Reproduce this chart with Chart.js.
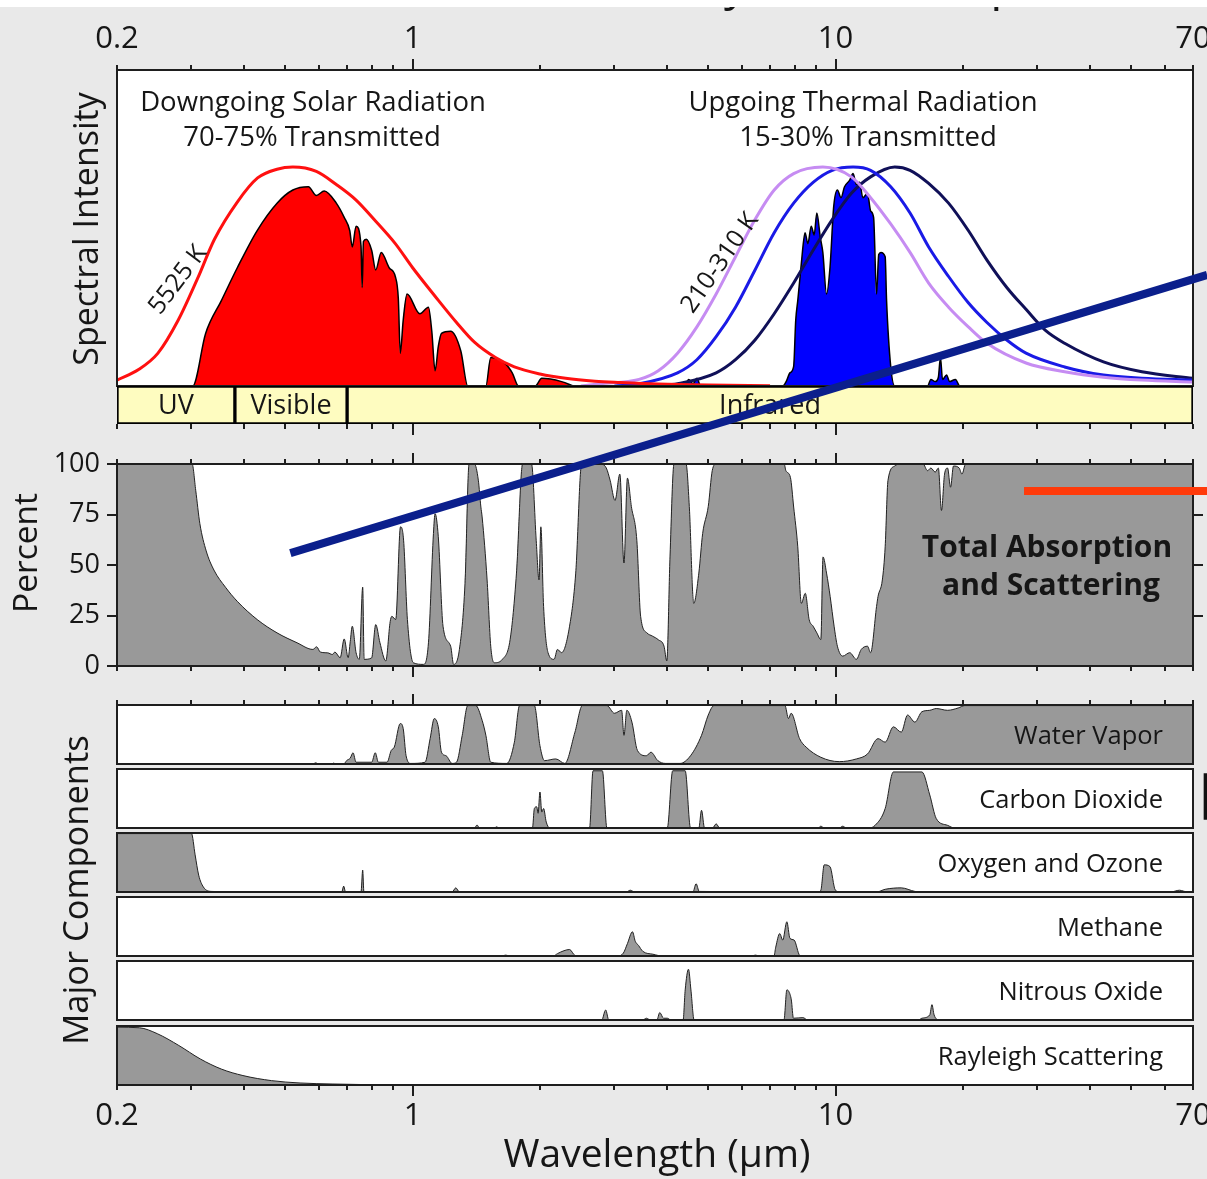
<!DOCTYPE html>
<html>
<head>
<meta charset="utf-8">
<title>Radiation Transmitted by the Atmosphere</title>
<script src="https://cdn.jsdelivr.net/npm/chart.js"></script>
<style>
  html, body { margin: 0; padding: 0; background: #e9e9e9; }
  #page { position: relative; width: 1207px; height: 1179px; overflow: hidden; background: #e9e9e9; }
  #page canvas { position: absolute; left: 0; top: 0; }
</style>
</head>
<body>
<div id="page">
  <canvas id="cTop" width="1207" height="1179"></canvas>
  <canvas id="cBand" width="1207" height="1179"></canvas>
  <canvas id="cTotal" width="1207" height="1179"></canvas>
  <canvas id="cWater" width="1207" height="1179"></canvas>
  <canvas id="cCo2" width="1207" height="1179"></canvas>
  <canvas id="cOxy" width="1207" height="1179"></canvas>
  <canvas id="cMeth" width="1207" height="1179"></canvas>
  <canvas id="cN2o" width="1207" height="1179"></canvas>
  <canvas id="cRay" width="1207" height="1179"></canvas>
  <canvas id="cOver" width="1207" height="1179"></canvas>
</div>

<script>
// ---- axis / category data ----
const wlMin = 0.2, wlMax = 70;
const wlTicks = [0.2, 0.3, 0.4, 0.5, 0.6, 0.7, 0.8, 0.9, 1, 2, 3, 4, 5, 6, 7, 8, 9, 10, 20, 30, 40, 50, 60, 70];
const wlMajor = [1, 10];
const wlLabelValues = [0.2, 1, 10, 70];
const wlLabels = ['0.2', '1', '10', '70'];
const pctTicks = [0, 25, 50, 75, 100];

const bandNames = ['UV', 'Visible', 'Infrared'];
const bandEdges = [0.2, 0.38, 0.7, 70];

// ---- spectral intensity (peak = 1), [wavelength um, value] ----
const solarBlackbody = [[0.2,0.027],[0.225,0.075],[0.25,0.15],[0.279,0.30],[0.31,0.49],[0.34,0.67],[0.385,0.84],[0.43,0.95],[0.478,0.99],[0.521,1.0],[0.592,0.98],[0.66,0.92],[0.734,0.85],[0.82,0.75],[0.91,0.65],[1.0,0.54],[1.13,0.41],[1.27,0.29],[1.4,0.20],[1.57,0.13],[1.74,0.087],[2.0,0.055],[2.3,0.035],[2.7,0.022],[3.1,0.016],[3.8,0.009],[5,0.004],[7,0.001]];
const solarTransmitted = [[0.29,0],[0.302,0],[0.324,0.24],[0.353,0.39],[0.385,0.54],[0.429,0.71],[0.478,0.835],[0.521,0.895],[0.567,0.91],[0.592,0.87],[0.618,0.89],[0.66,0.835],[0.689,0.77],[0.71,0.71],[0.72,0.635],[0.735,0.73],[0.755,0.64],[0.76,0.45],[0.765,0.66],[0.777,0.67],[0.80,0.62],[0.818,0.53],[0.843,0.61],[0.88,0.54],[0.91,0.50],[0.925,0.40],[0.935,0.15],[0.95,0.30],[0.97,0.42],[1.04,0.33],[1.09,0.36],[1.11,0.25],[1.13,0.07],[1.15,0.18],[1.17,0.24],[1.23,0.25],[1.30,0.16],[1.35,0],[1.49,0],[1.53,0.13],[1.66,0.10],[1.72,0.06],[1.78,0],[1.95,0],[2.02,0.035],[2.25,0.02],[2.40,0]];
const thermal310 = [[2.5,0],[2.78,0.01],[3.43,0.03],[3.81,0.07],[4.23,0.15],[4.7,0.27],[5.22,0.42],[5.8,0.59],[6.45,0.76],[7.16,0.895],[7.96,0.97],[9.33,1.0],[10.9,0.955],[12.1,0.86],[13.5,0.74],[15.0,0.61],[16.6,0.47],[18.5,0.36],[20.6,0.27],[22.8,0.195],[28.2,0.105],[34.8,0.065],[43,0.04],[53,0.027],[70,0.018]];
const thermal260 = [[3.0,0],[3.43,0.01],[4.23,0.06],[4.7,0.12],[5.22,0.225],[5.8,0.36],[6.45,0.53],[7.16,0.70],[7.96,0.835],[8.85,0.93],[9.82,0.985],[11.0,1.0],[12.1,0.985],[13.5,0.91],[15.0,0.79],[16.6,0.635],[18.5,0.50],[20.6,0.38],[22.8,0.29],[25.4,0.21],[28.2,0.15],[34.8,0.087],[43,0.05],[53,0.035],[70,0.027]];
const thermal210 = [[3.8,0],[4.23,0.01],[5.22,0.06],[5.8,0.12],[6.45,0.21],[7.16,0.33],[7.96,0.47],[8.85,0.62],[9.82,0.76],[10.9,0.88],[12.1,0.955],[13.8,1.0],[15.0,0.985],[16.6,0.925],[18.5,0.835],[20.6,0.71],[22.8,0.575],[25.4,0.45],[28.2,0.35],[31.3,0.255],[34.8,0.195],[43,0.11],[53,0.065],[70,0.035]];
const thermalTransmitted = [[4.4,0],[4.5,0.03],[4.6,0.01],[4.7,0.035],[4.8,0],[7.5,0],[7.64,0.02],[7.8,0.06],[7.96,0.09],[8.05,0.3],[8.14,0.39],[8.3,0.56],[8.4,0.66],[8.47,0.70],[8.6,0.65],[8.76,0.73],[8.9,0.69],[9.03,0.79],[9.2,0.68],[9.33,0.61],[9.52,0.42],[9.7,0.54],[9.9,0.82],[10.1,0.895],[10.3,0.86],[10.5,0.91],[10.8,0.94],[11.0,0.97],[11.2,0.92],[11.4,0.93],[11.6,0.86],[11.9,0.88],[12.1,0.80],[12.3,0.77],[12.5,0.42],[12.65,0.60],[12.8,0.61],[13.1,0.59],[13.2,0.39],[13.5,0.09],[13.8,0],[16.5,0],[16.8,0.03],[17.2,0.02],[17.5,0.04],[17.7,0.13],[17.9,0.03],[18.3,0.05],[18.6,0.02],[19.2,0.03],[19.6,0]];

// ---- total absorption and scattering (percent) ----
const totalAbsorption = [[0.2,100],[0.301,100],[0.307,87],[0.314,70.5],[0.325,57],[0.339,47.5],[0.361,39],[0.385,32],[0.429,23],[0.478,16.4],[0.533,11.5],[0.581,8.2],[0.593,9.5],[0.605,6.9],[0.63,6.5],[0.646,5.7],[0.655,6.9],[0.674,4.1],[0.689,13.4],[0.704,4.1],[0.712,12],[0.72,19.7],[0.735,6.6],[0.748,3.3],[0.762,39],[0.768,3.3],[0.80,4],[0.818,20.5],[0.837,11.5],[0.864,2.5],[0.885,22],[0.893,24.6],[0.912,23],[0.936,68.9],[0.952,62.3],[0.972,23],[1.004,1.6],[1.06,0.8],[1.09,11.5],[1.12,65.6],[1.13,75.4],[1.15,64],[1.18,19.7],[1.23,9.8],[1.25,0.8],[1.29,8.2],[1.33,41],[1.36,100],[1.40,100],[1.43,92],[1.45,78.7],[1.46,73.8],[1.50,42.6],[1.53,9.8],[1.56,1.6],[1.63,3.3],[1.70,13],[1.76,46],[1.82,100],[1.91,100],[1.96,62],[1.99,42.6],[2.01,68.9],[2.04,29.5],[2.09,6.6],[2.16,3.3],[2.2,8.2],[2.25,6.6],[2.35,19.7],[2.43,46],[2.51,100],[2.78,100],[2.87,98],[2.93,92],[3.01,82],[3.09,95],[3.16,51],[3.22,93],[3.29,79],[3.39,62],[3.46,24.6],[3.58,16.4],[3.69,14.8],[3.81,13],[3.93,9.8],[3.99,2.5],[4.06,54],[4.15,100],[4.43,100],[4.51,79],[4.62,31],[4.75,46],[4.85,65.6],[5.0,79],[5.11,96.7],[5.22,100],[7.56,100],[7.63,96.7],[7.82,93.4],[7.96,78.7],[8.14,59],[8.30,31],[8.48,36],[8.66,23],[8.85,19.7],[9.03,16.4],[9.23,13.1],[9.34,54],[9.52,46],[9.71,34.4],[9.92,19.7],[10.1,9.8],[10.4,4.9],[10.8,6.6],[11.2,3.3],[11.5,8.2],[11.9,9.8],[12.1,6.6],[12.5,29.5],[12.6,34.4],[12.9,42.6],[13.1,59],[13.3,91.8],[13.8,99],[14.1,100],[16.1,100],[16.5,96.7],[16.8,98],[17.2,96],[17.5,98],[17.8,77],[18.1,95],[18.4,98],[18.7,88.5],[19.0,99],[19.6,98],[19.9,95],[20.3,100],[70,100]];

// ---- major components (percent) ----
const waterVapor = [[0.2,0],[0.58,0],[0.59,2],[0.60,0],[0.645,0],[0.65,1.5],[0.66,0],[0.69,1],[0.698,5.7],[0.712,10],[0.723,19],[0.735,3],[0.80,3],[0.816,19],[0.83,3],[0.87,3],[0.89,23],[0.905,28.6],[0.935,68.6],[0.95,60],[0.965,14],[0.99,1],[1.07,3],[1.10,43],[1.125,77],[1.15,63],[1.17,20],[1.20,14],[1.24,1],[1.27,3],[1.31,48.6],[1.35,99],[1.41,99],[1.46,74],[1.49,48.6],[1.53,3],[1.67,1],[1.74,37],[1.79,99],[1.94,99],[2.0,31],[2.05,5.7],[2.18,8.6],[2.29,1],[2.42,54],[2.52,99],[2.88,99],[3.0,86],[3.12,91],[3.16,48.6],[3.21,91],[3.3,71],[3.4,23],[3.57,14],[3.66,20],[3.80,5.7],[3.96,1],[4.29,1],[4.54,14],[4.82,48.6],[5.0,83],[5.16,99],[7.59,99],[7.74,77],[7.85,86],[8.22,43],[8.52,28.6],[9.23,11.4],[10.2,4],[11.2,8.6],[11.9,17],[12.6,43],[13.1,37],[13.7,63],[14.3,54],[14.8,83],[15.4,71],[16.0,88.6],[16.7,91],[17.3,94],[18.4,91],[19.5,95],[20.2,99],[70,99]];
const carbonDioxide = [[0.2,0],[1.40,0],[1.42,5],[1.44,0],[1.56,0],[1.58,2],[1.60,0],[1.92,0],[1.94,33],[1.965,36],[1.98,25],[2.0,61],[2.02,27],[2.04,33],[2.07,10],[2.11,0],[2.62,0],[2.67,97],[2.81,97],[2.88,0],[4.0,0],[4.12,97],[4.41,97],[4.54,0],[4.75,0],[4.82,30],[4.9,0],[5.12,0],[5.22,7],[5.32,0],[9.1,0],[9.23,3],[9.4,0],[10.2,0],[10.4,3],[10.6,0],[12.0,0],[12.4,4.5],[13.1,33],[13.7,95],[16.0,95],[16.7,56],[17.3,16],[18.4,4.5],[19.1,0],[70,0]];
const oxygenOzone = [[0.2,99],[0.30,99],[0.306,63],[0.312,28.6],[0.32,8.6],[0.334,1],[0.40,0],[0.68,0],[0.687,10],[0.694,0],[0.755,0],[0.762,37],[0.767,0],[1.24,0],[1.265,7],[1.29,0],[3.2,0],[3.27,3],[3.35,0],[4.6,0],[4.68,14],[4.76,1],[9.1,0],[9.23,3],[9.4,46],[9.7,43],[9.99,3],[10.3,0],[12.5,0],[13.1,4.6],[14.3,7],[15.4,1],[16,0],[62,0],[65,3],[68,0],[70,0]];
const methane = [[0.2,0],[1.62,0],[1.66,1.5],[1.70,0],[2.15,0],[2.2,4],[2.28,9],[2.35,11],[2.42,1],[2.5,0],[3.05,0],[3.15,5],[3.22,21],[3.31,41],[3.36,25],[3.42,18],[3.5,8],[3.7,3],[3.9,0],[6.3,0],[6.47,1.5],[6.6,0],[7.15,0],[7.22,15],[7.38,38],[7.5,27],[7.67,58],[7.8,30],[7.98,27],[8.23,1],[8.4,0],[70,0]];
const nitrousOxide = [[0.2,0],[2.8,0],[2.86,17],[2.91,0],[3.5,0],[3.57,3],[3.65,0],[3.78,0],[3.84,12.6],[3.92,3],[4.0,3],[4.08,0],[4.36,0],[4.41,51],[4.49,86],[4.55,51],[4.63,0],[7.55,0],[7.67,51],[7.75,48.6],[7.86,34],[7.95,3],[8.37,4],[8.6,0],[15.7,0],[16.0,3],[16.7,8.6],[16.9,26],[17.1,8.6],[17.6,0],[70,0]];
const rayleigh = [[0.2,98],[0.226,97],[0.249,87],[0.28,67],[0.315,44],[0.353,27],[0.397,16],[0.464,7.4],[0.542,3.4],[0.645,1.7],[0.785,0.6],[0.97,0],[70,0]];

// ---- overlay marks (in total-panel units) ----
const overlayBlueLine = [[0.514, 55.9], [75.6, 193.6]];
const overlayRedLine = [[27.9, 86.6], [75.6, 86.6]];
const co2EdgeMark = [[75.2, 93], [75.2, 14]];

// ---- layout ----
const W = 1207, H = 1179;
const plotLeft = 117, plotRight = 1193;
const FONT = '"Open Sans", "Noto Sans", sans-serif';
const INK = '#161616';
const GRAY = '#999999';

const boxes = {
  cTop: [70, 386], cBand: [386, 424], cTotal: [464, 666],
  cWater: [705, 764], cCo2: [769, 828], cOxy: [833, 892],
  cMeth: [897, 956], cN2o: [961, 1020], cRay: [1026, 1085], cOver: [464, 666]
};

function panelText(label, id) {
  const [t, b] = boxes[id];
  return { text: label, x: 1163, y: (t + b) / 2 + 9.5, font: '25.5px ' + FONT, align: 'right', base: 'alphabetic' };
}

const decorConf = {
  cTop: {
    bg: '#ffffff', frame: true, ticksTop: true, labelsTop: 39, title: true,
    texts: [
      { text: 'Spectral Intensity', x: 88, y: 229, rot: -90, font: '34px ' + FONT },
      { text: 'Downgoing Solar Radiation', x: 313, y: 111, font: '27.5px ' + FONT, base: 'alphabetic' },
      { text: '70-75% Transmitted', x: 312, y: 146, font: '27.5px ' + FONT, base: 'alphabetic' },
      { text: 'Upgoing Thermal Radiation', x: 863, y: 111, font: '27.5px ' + FONT, base: 'alphabetic' },
      { text: '15-30% Transmitted', x: 868, y: 146, font: '27.5px ' + FONT, base: 'alphabetic' },
      { text: '5525 K', x: 178, y: 280, rot: -53, font: '25px ' + FONT },
      { text: '210-310 K', x: 720, y: 263, rot: -55, font: '25px ' + FONT }
    ]
  },
  cBand: { ticksBottom: true, bandLabels: true },
  cTotal: {
    bg: '#ffffff', frame: true, ticksTop: true, ticksBottom: true, yTicks: true,
    texts: [
      { text: 'Percent', x: 27, y: 553, rot: -90, font: '33.5px ' + FONT },
      { text: 'Total Absorption', x: 1047, y: 557, font: 'bold 30px ' + FONT, base: 'alphabetic' },
      { text: 'and Scattering', x: 1051, y: 595, font: 'bold 30px ' + FONT, base: 'alphabetic' }
    ]
  },
  cWater: { bg: '#ffffff', frame: true, ticksTop: true, texts: [panelText('Water Vapor', 'cWater')] },
  cCo2: { bg: '#ffffff', frame: true, texts: [panelText('Carbon Dioxide', 'cCo2')] },
  cOxy: { bg: '#ffffff', frame: true, texts: [panelText('Oxygen and Ozone', 'cOxy')] },
  cMeth: { bg: '#ffffff', frame: true, texts: [panelText('Methane', 'cMeth')] },
  cN2o: { bg: '#ffffff', frame: true, texts: [panelText('Nitrous Oxide', 'cN2o')] },
  cRay: {
    bg: '#ffffff', frame: true, ticksBottom: true, labelsBottom: 1116,
    texts: [
      panelText('Rayleigh Scattering', 'cRay'),
      { text: 'Major Components', x: 78, y: 890, rot: -90, font: '34.5px ' + FONT },
      { text: 'Wavelength (\u03bcm)', x: 657, y: 1167, font: '39px ' + FONT, base: 'alphabetic' }
    ]
  }
};

// ---- drawing helpers ----
function drawText(ctx, t) {
  ctx.save();
  ctx.translate(t.x, t.y);
  if (t.rot) ctx.rotate(t.rot * Math.PI / 180);
  ctx.font = t.font;
  ctx.fillStyle = t.color || INK;
  ctx.textAlign = t.align || 'center';
  ctx.textBaseline = t.base || 'middle';
  ctx.fillText(t.text, 0, 0);
  ctx.restore();
}

function xTicks(ctx, xs, y, dir) {
  ctx.beginPath();
  wlTicks.forEach(v => {
    const px = Math.round(xs.getPixelForValue(v));
    const len = wlMajor.includes(v) ? 11 : 5;
    ctx.moveTo(px, y);
    ctx.lineTo(px, y + dir * len);
  });
  ctx.stroke();
}

function xLabels(ctx, xs, y) {
  ctx.font = '31px ' + FONT;
  ctx.textAlign = 'center';
  ctx.textBaseline = 'middle';
  ctx.fillStyle = INK;
  wlLabelValues.forEach((v, i) => ctx.fillText(wlLabels[i], xs.getPixelForValue(v), y));
}

const decor = {
  id: 'decor',
  beforeDatasetsDraw(chart) {
    const c = decorConf[chart.canvas.id];
    if (!c || !c.bg) return;
    const { ctx, chartArea: a } = chart;
    ctx.save();
    ctx.fillStyle = c.bg;
    ctx.fillRect(a.left, a.top, a.right - a.left, a.bottom - a.top);
    ctx.restore();
  },
  afterDatasetsDraw(chart) {
    const c = decorConf[chart.canvas.id];
    if (!c) return;
    const { ctx, chartArea: a } = chart;
    const xs = chart.scales.x, ys = chart.scales.y;
    ctx.save();
    ctx.strokeStyle = '#1e1e1e';
    ctx.lineWidth = 2;
    if (c.frame) ctx.strokeRect(a.left, a.top, a.right - a.left, a.bottom - a.top);
    if (c.ticksTop) xTicks(ctx, xs, a.top, -1);
    if (c.ticksBottom) xTicks(ctx, xs, a.bottom, 1);
    if (c.labelsTop) xLabels(ctx, xs, c.labelsTop);
    if (c.labelsBottom) xLabels(ctx, xs, c.labelsBottom);
    if (c.yTicks) {
      ctx.beginPath();
      pctTicks.forEach(v => {
        const py = Math.round(ys.getPixelForValue(v));
        ctx.moveTo(a.left, py); ctx.lineTo(a.left - 10, py);
        if (v > 0 && v < 100) { ctx.moveTo(a.right, py); ctx.lineTo(a.right + 10, py); }
      });
      ctx.stroke();
      ctx.font = '27px ' + FONT;
      ctx.textAlign = 'right';
      ctx.textBaseline = 'middle';
      ctx.fillStyle = INK;
      pctTicks.forEach(v => ctx.fillText(String(v), a.left - 17, ys.getPixelForValue(v)));
    }
    if (c.bandLabels) {
      bandNames.forEach((n, i) => {
        const mid = Math.sqrt(bandEdges[i] * bandEdges[i + 1]);
        drawText(ctx, { text: n, x: xs.getPixelForValue(mid), y: (a.top + a.bottom) / 2 + 1, font: '27px ' + FONT });
      });
    }
    (c.texts || []).forEach(t => drawText(ctx, t));
    if (c.title) {
      // page title, almost entirely cropped off the top edge
      ctx.font = '48px ' + FONT;
      ctx.textAlign = 'left';
      ctx.textBaseline = 'alphabetic';
      ctx.fillStyle = INK;
      const pre = ctx.measureText('Radiation Transmitted b').width;
      ctx.fillText('Radiation Transmitted by the Atmosphere', 724 - pre, 0);
      ctx.fillStyle = '#ffffff';
      ctx.fillRect(0, 0, W, 7);
    }
    ctx.restore();
  }
};

const pts = arr => arr.map(([x, y]) => ({ x, y }));
function area(arr, fillColor, lineColor, lw) {
  return { data: pts(arr), fill: 'origin', backgroundColor: fillColor, borderColor: lineColor, borderWidth: lw, order: 2, cubicInterpolationMode: 'monotone' };
}
function curve(arr, color, lw, extra) {
  return Object.assign({ data: pts(arr), fill: false, borderColor: color, borderWidth: lw, order: 1, cubicInterpolationMode: 'monotone' }, extra || {});
}

function makeChart(id, type, yMax, datasets, extra) {
  const [t, b] = boxes[id];
  const opts = {
    responsive: false, animation: false, devicePixelRatio: 1, events: [],
    layout: { padding: { left: plotLeft, right: W - plotRight, top: t, bottom: H - b } },
    scales: {
      x: { type: 'logarithmic', min: wlMin, max: wlMax, display: false },
      y: { type: 'linear', min: 0, max: yMax, display: false }
    },
    elements: { point: { radius: 0 }, line: { tension: 0 } },
    plugins: { legend: { display: false }, tooltip: { enabled: false } }
  };
  if (extra) extra(opts);
  return new Chart(document.getElementById(id), {
    type: type,
    data: { datasets: datasets, labels: type === 'bar' ? ['band'] : undefined },
    options: opts,
    plugins: [decor]
  });
}

// top: spectral intensity
makeChart('cTop', 'line', 1.443, [
  area(solarTransmitted, '#ff0000', '#000000', 1.5),
  area(thermalTransmitted, '#0000ff', '#000000', 1.5),
  curve(solarBlackbody, '#ff1010', 3),
  curve(thermal310, '#c68cf2', 3),
  curve(thermal260, '#1a1ae6', 3),
  curve(thermal210, '#101058', 3)
]);

// UV / Visible / Infrared band
makeChart('cBand', 'bar', 1, [{
  data: bandNames.map((n, i) => ({ x: [bandEdges[i], bandEdges[i + 1]], y: 'band' })),
  backgroundColor: '#fefcc0', borderColor: '#000000', borderWidth: 2, borderSkipped: false,
  barPercentage: 1, categoryPercentage: 1
}], opts => {
  opts.indexAxis = 'y';
  opts.scales.y = { type: 'category', labels: ['band'], display: false };
});

// total absorption
makeChart('cTotal', 'line', 100, [area(totalAbsorption, GRAY, '#222222', 1)]);

// components
makeChart('cWater', 'line', 100, [area(waterVapor, GRAY, '#222222', 1)]);
makeChart('cCo2', 'line', 100, [
  area(carbonDioxide, GRAY, '#222222', 1),
  curve(co2EdgeMark, '#111111', 5, { clip: false, cubicInterpolationMode: 'default' })
]);
makeChart('cOxy', 'line', 100, [area(oxygenOzone, GRAY, '#222222', 1)]);
makeChart('cMeth', 'line', 100, [area(methane, GRAY, '#222222', 1)]);
makeChart('cN2o', 'line', 100, [area(nitrousOxide, GRAY, '#222222', 1)]);
makeChart('cRay', 'line', 100, [area(rayleigh, GRAY, '#222222', 1)]);

// overlay strokes on top of everything
makeChart('cOver', 'line', 100, [
  curve(overlayBlueLine, '#0b1f8c', 8, { clip: false, cubicInterpolationMode: 'default' }),
  curve(overlayRedLine, '#ff3a0a', 8, { clip: false, cubicInterpolationMode: 'default' })
]);
</script>
</body>
</html>
